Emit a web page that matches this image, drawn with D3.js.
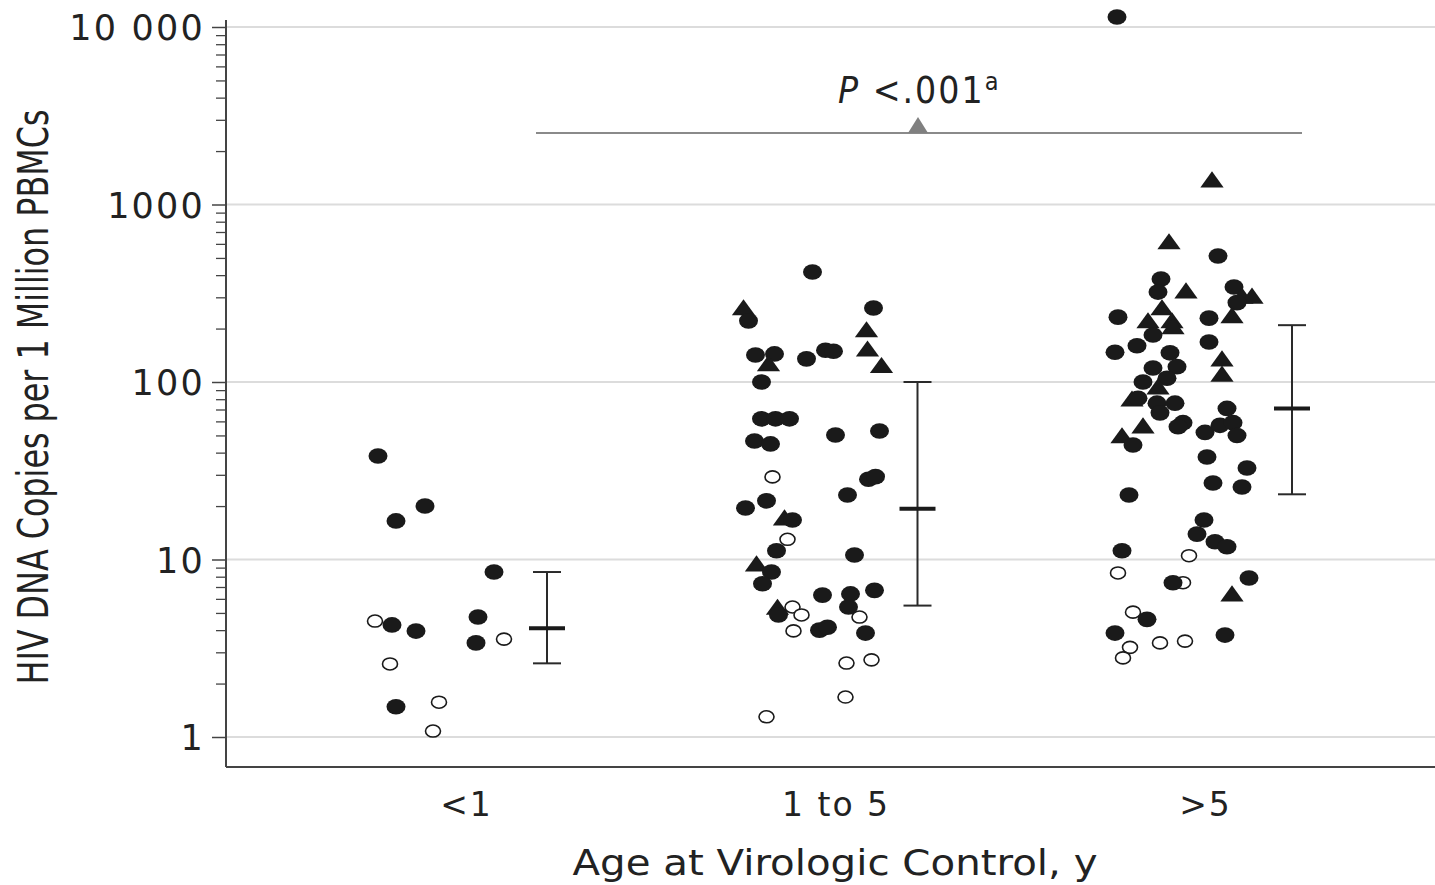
<!DOCTYPE html>
<html>
<head>
<meta charset="utf-8">
<script src="https://cdn.jsdelivr.net/npm/d3@7"></script>
<style>
  body { margin: 0; background: #fff; }
  svg { display: block; }
  text { fill: #222; }
</style>
</head>
<body>
<svg id="chart" width="1435" height="885"></svg>
<script>
'use strict';

// categories and summary values (median, IQR)
var categories = ['<1', '1 to 5', '>5'];
var medians = [4.1, 19.3, 71];
var lowerIQR = [2.6, 5.5, 23.3];
var upperIQR = [8.5, 100, 209];
var yTicks = [1, 10, 100, 1000, 10000];
var yTickLabels = ['1', '10', '100', '1000', '10 000'];

// individual points: [jitter offset, copies, marker] ; f = filled circle, o = open circle, t = triangle
var groupLt1 = [
  [-91, 4.5, 'o'], [-88, 38.3, 'f'], [-70, 16.5, 'f'], [-41, 20, 'f'], [28, 8.5, 'f'],
  [-74, 4.28, 'f'], [-50, 3.95, 'f'], [12, 4.74, 'f'], [10, 3.39, 'f'], [38, 3.56, 'o'],
  [-76, 2.58, 'o'], [-70, 1.48, 'f'], [-27, 1.57, 'o'], [-33, 1.08, 'o']
];
var group1to5 = [
  [-23, 417, 'f'], [-92, 258, 't'], [-87, 221, 'f'], [38, 261, 'f'], [31, 194, 't'],
  [32, 151, 't'], [46, 122, 't'], [-80, 142, 'f'], [-61, 144, 'f'], [-67, 125, 't'],
  [-29, 135, 'f'], [-10, 151, 'f'], [-2, 149, 'f'], [-74, 100, 'f'],
  [-74, 62, 'f'], [-60, 62, 'f'], [-46, 62, 'f'], [-81, 46.5, 'f'], [-65, 44.8, 'f'],
  [0, 50.3, 'f'], [44, 53, 'f'], [-63, 29.2, 'o'], [33, 28.3, 'f'], [40, 29.3, 'f'],
  [12, 23.1, 'f'], [-90, 19.5, 'f'], [-69, 21.4, 'f'], [-51, 16.9, 't'], [-43, 16.7, 'f'],
  [-48, 13.0, 'o'], [-59, 11.2, 'f'], [19, 10.6, 'f'], [-79, 9.3, 't'], [-64, 8.5, 'f'],
  [-73, 7.3, 'f'], [-13, 6.3, 'f'], [15, 6.4, 'f'], [39, 6.7, 'f'], [13, 5.4, 'f'],
  [-58, 5.3, 't'], [-57, 4.87, 'f'], [-16, 4.0, 'f'], [-8, 4.15, 'f'], [30, 3.85, 'f'],
  [-43, 5.4, 'o'], [-34, 4.87, 'o'], [24, 4.74, 'o'], [-42, 3.96, 'o'],
  [36, 2.72, 'o'], [11, 2.61, 'o'], [10, 1.68, 'o'], [-69, 1.30, 'o']
];
var groupGt5 = [
  [-88, 11384, 'f'], [7, 1356, 't'], [-36, 607, 't'], [13, 513, 'f'], [-44, 380, 'f'],
  [-47, 321, 'f'], [-19, 321, 't'], [29, 343, 'f'], [37, 300, 't'], [47, 300, 't'],
  [32, 280, 'f'], [27, 233, 't'], [-87, 232, 'f'], [-43, 258, 't'], [-57, 218, 't'],
  [-33, 218, 't'], [-32, 202, 't'], [4, 229, 'f'], [-52, 184, 'f'], [4, 168, 'f'],
  [-90, 147, 'f'], [-68, 160, 'f'], [-35, 146, 'f'], [17, 133, 't'], [17, 109, 't'],
  [-28, 122, 'f'], [-52, 120, 'f'], [-62, 100, 'f'], [-38, 105, 'f'], [-47, 92.5, 't'],
  [-73, 79, 't'], [-67, 81, 'f'], [-48, 76, 'f'], [-30, 76, 'f'], [-45, 67, 'f'],
  [22, 71, 'f'], [-62, 55.7, 't'], [-22, 59, 'f'], [-27, 56, 'f'], [0, 52, 'f'],
  [15, 57, 'f'], [28, 59, 'f'], [32, 50, 'f'], [-83, 49, 't'], [-72, 44.2, 'f'],
  [2, 37.8, 'f'], [42, 32.8, 'f'], [8, 27, 'f'], [37, 25.6, 'f'], [-76, 23.1, 'f'],
  [-1, 16.7, 'f'], [-8, 13.9, 'f'], [10, 12.6, 'f'], [22, 11.8, 'f'], [-83, 11.2, 'f'],
  [-16, 10.5, 'o'], [-87, 8.4, 'o'], [-22, 7.4, 'o'], [-32, 7.4, 'f'], [44, 7.86, 'f'],
  [27, 6.3, 't'], [-72, 5.05, 'o'], [-58, 4.6, 'f'], [-90, 3.85, 'f'], [20, 3.75, 'f'],
  [-75, 3.2, 'o'], [-45, 3.39, 'o'], [-20, 3.47, 'o'], [-82, 2.79, 'o']
];
var groups = [groupLt1, group1to5, groupGt5];

// layout
var left = 226, right = 1435, axisTop = 20, axisBottom = 767;
var errOffset = [81, 82, 87];

var svg = d3.select('#chart');

var x = d3.scalePoint().domain(categories).range([466, 1205]);
var y = d3.scaleLog().domain([1, 10000]).range([737, 27]);

// gridlines
svg.append('g').selectAll('line')
  .data(yTicks)
  .enter().append('line')
  .attr('x1', left).attr('x2', right)
  .attr('y1', function (d) { return y(d); })
  .attr('y2', function (d) { return y(d); })
  .attr('stroke', '#dcdcdc')
  .attr('stroke-width', 2);

// y axis: minor ticks then major ticks with labels
var minor = [];
[1, 10, 100, 1000].forEach(function (dec) {
  for (var k = 2; k <= 9; k++) minor.push(dec * k);
});

svg.append('g')
  .attr('transform', 'translate(' + left + ',0)')
  .call(d3.axisLeft(y).tickValues(minor).tickSize(10).tickFormat(''))
  .call(function (g) { g.select('.domain').remove(); })
  .selectAll('line').attr('stroke', '#444').attr('stroke-width', 1.3);

var yAxis = svg.append('g')
  .attr('transform', 'translate(' + left + ',0)')
  .call(d3.axisLeft(y).tickValues(yTicks).tickSize(14).tickPadding(7)
    .tickFormat(function (d, i) { return yTickLabels[i]; }));
yAxis.select('.domain').remove();
yAxis.selectAll('line').attr('stroke', '#444').attr('stroke-width', 1.5);
yAxis.selectAll('text')
  .attr('font-family', 'DejaVu Sans')
  .attr('font-size', 35)
  .attr('letter-spacing', 2.2)
  .attr('dy', '0.36em')
  .style('fill', '#222');

// axis lines
svg.append('line')
  .attr('x1', left).attr('x2', left).attr('y1', axisTop).attr('y2', axisBottom)
  .attr('stroke', '#444').attr('stroke-width', 2);
svg.append('line')
  .attr('x1', left).attr('x2', right).attr('y1', axisBottom).attr('y2', axisBottom)
  .attr('stroke', '#444').attr('stroke-width', 2);

// x axis labels
var xAxis = svg.append('g')
  .attr('transform', 'translate(0,' + axisBottom + ')')
  .call(d3.axisBottom(x).tickSize(0).tickPadding(26));
xAxis.select('.domain').remove();
xAxis.selectAll('text')
  .attr('font-family', 'DejaVu Sans')
  .attr('font-size', 33)
  .attr('letter-spacing', 2)
  .style('fill', '#222');

// axis titles
svg.append('text')
  .attr('x', 835).attr('y', 875)
  .attr('text-anchor', 'middle')
  .attr('font-family', 'DejaVu Sans')
  .attr('font-size', 36)
  .attr('textLength', 525)
  .attr('lengthAdjust', 'spacingAndGlyphs')
  .text('Age at Virologic Control, y');

svg.append('text')
  .attr('transform', 'translate(48,397) rotate(-90)')
  .attr('text-anchor', 'middle')
  .attr('font-family', 'Liberation Sans Narrow, DejaVu Sans Condensed, sans-serif')
  .attr('font-size', 42)
  .attr('textLength', 575)
  .attr('lengthAdjust', 'spacingAndGlyphs')
  .text('HIV DNA Copies per 1 Million PBMCs');

// points
var tri = d3.symbol().type(d3.symbolTriangle).size(150);
groups.forEach(function (pts, gi) {
  var cx = x(categories[gi]);
  var g = svg.append('g');
  pts.forEach(function (p) {
    var px = cx + p[0], py = y(p[1]);
    if (p[2] === 't') {
      g.append('path')
        .attr('d', tri)
        .attr('transform', 'translate(' + px + ',' + (py + 1) + ') scale(1.25,1)')
        .attr('fill', '#1a1a1a');
    } else if (p[2] === 'o') {
      g.append('ellipse')
        .attr('cx', px).attr('cy', py).attr('rx', 7.5).attr('ry', 6)
        .attr('fill', '#fff').attr('stroke', '#1a1a1a').attr('stroke-width', 1.6);
    } else {
      g.append('ellipse')
        .attr('cx', px).attr('cy', py).attr('rx', 9.5).attr('ry', 7.8)
        .attr('fill', '#1a1a1a');
    }
  });
});

// median and IQR bars
var bars = svg.append('g').selectAll('g')
  .data(categories)
  .enter().append('g')
  .attr('transform', function (d, i) { return 'translate(' + (x(d) + errOffset[i]) + ',0)'; });

bars.append('line')
  .attr('x1', 0).attr('x2', 0)
  .attr('y1', function (d, i) { return y(upperIQR[i]); })
  .attr('y2', function (d, i) { return y(lowerIQR[i]); })
  .attr('stroke', '#2a2a2a').attr('stroke-width', 2);
bars.append('line')
  .attr('x1', -14).attr('x2', 14)
  .attr('y1', function (d, i) { return y(upperIQR[i]); })
  .attr('y2', function (d, i) { return y(upperIQR[i]); })
  .attr('stroke', '#2a2a2a').attr('stroke-width', 2);
bars.append('line')
  .attr('x1', -14).attr('x2', 14)
  .attr('y1', function (d, i) { return y(lowerIQR[i]); })
  .attr('y2', function (d, i) { return y(lowerIQR[i]); })
  .attr('stroke', '#2a2a2a').attr('stroke-width', 2);
bars.append('line')
  .attr('x1', -18).attr('x2', 18)
  .attr('y1', function (d, i) { return y(medians[i]); })
  .attr('y2', function (d, i) { return y(medians[i]); })
  .attr('stroke', '#1a1a1a').attr('stroke-width', 4);

// significance annotation
svg.append('line')
  .attr('x1', 536).attr('x2', 1302).attr('y1', 133).attr('y2', 133)
  .attr('stroke', '#8a8a8a').attr('stroke-width', 2);
svg.append('path')
  .attr('d', 'M908,133 L918,117 L928,133 Z')
  .attr('fill', '#808080');

var ptext = svg.append('text')
  .attr('x', 838).attr('y', 103)
  .attr('font-family', 'DejaVu Sans Condensed, DejaVu Sans')
  .attr('font-size', 37)
  .attr('letter-spacing', 2);
ptext.append('tspan').attr('font-style', 'italic').text('P');
ptext.append('tspan').text(' <.001');
ptext.append('tspan').attr('font-size', 25).attr('dy', -13).text('a');
</script>
</body>
</html>
